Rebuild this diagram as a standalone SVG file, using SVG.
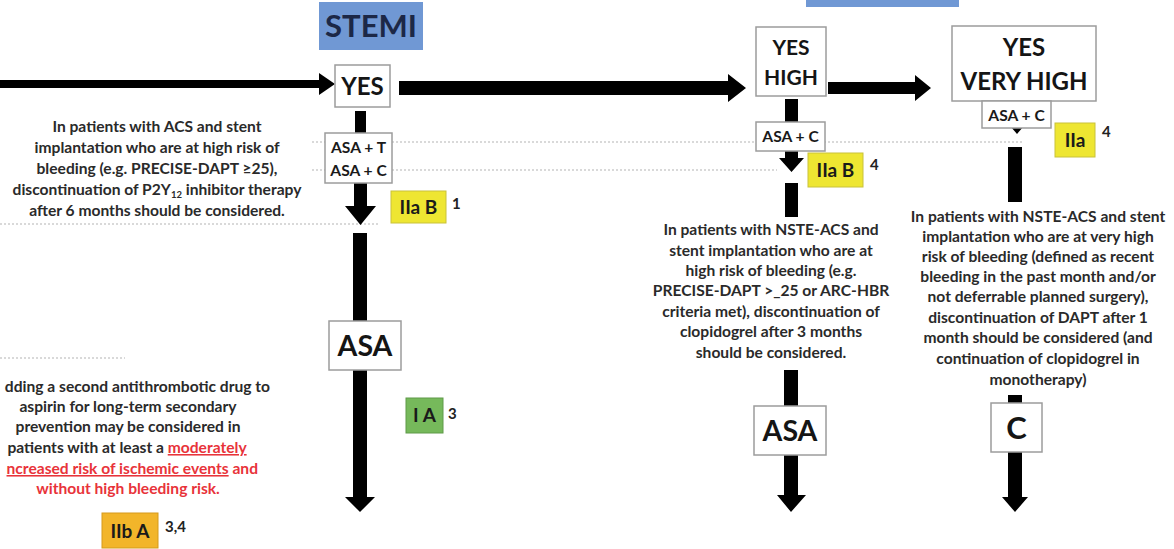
<svg xmlns="http://www.w3.org/2000/svg" width="1174" height="549" viewBox="0 0 1174 549">
<style>
.bg{fill:#fff}
.box{fill:#fff;stroke:#9c9c9c;stroke-width:1.5}
.dot{stroke:#b4b4b4;stroke-width:1.2;stroke-dasharray:2 2;fill:none}
.arr{fill:#000}
.t{font-family:Lato,"Liberation Sans",sans-serif;font-weight:700;fill:#2a2a2a}
.body{font-size:15.6px;text-anchor:middle}
.big{font-weight:700;fill:#151515;text-anchor:middle}
.sm{font-size:15.6px;text-anchor:middle;fill:#1a1a1a}
.badge{font-size:19px;text-anchor:middle;fill:#1a1a1a}
.ref{font-size:15px;fill:#222}
.red{fill:#e8333a}
.y{fill:#eee632;stroke:#c9c23a;stroke-width:1}
.g{fill:#76b95b;stroke:#5f9a48;stroke-width:1}
.o{fill:#f2b52a;stroke:#d59a1c;stroke-width:1}
.blue{fill:#7098d4}
</style>
<rect class="bg" x="0" y="0" width="1174" height="549"/>

<g id="guides">
<line class="dot" x1="312" y1="142" x2="1023" y2="142"/>
<line class="dot" x1="312" y1="170" x2="777" y2="170"/>
<line class="dot" x1="0" y1="224" x2="380" y2="224"/>
<line class="dot" x1="0" y1="358" x2="125" y2="358"/>
</g>

<g id="connectors">
<path class="arr" d="M0,80 H319 V73 L335,84 L319,95 V88 H0 Z"/>
<path class="arr" d="M399,81 H728 V74 L746,88 L728,102 V95 H399 Z"/>
<path class="arr" d="M828,82 H915 V75 L931,88 L915,101 V94 H828 Z"/>
<path class="arr" d="M355,111 H366 V134 H355 Z"/>
<path class="arr" d="M354,182 H367 V206 H376 L360.5,225 L345,206 H354 Z"/>
<path class="arr" d="M353,233 H367 V497 H375 L360,512 L345,497 H353 Z"/>
<path class="arr" d="M785,99 H798 V123 H785 Z"/>
<path class="arr" d="M785,150 H798 V158 H804 L791.5,172 L779,158 H785 Z"/>
<path class="arr" d="M785,183 H798 V217 H785 Z"/>
<path class="arr" d="M784,370 H798 V495 H806 L791,512 L777,495 H784 Z"/>
<path class="arr" d="M1011,127 H1023 L1017,134 Z"/>
<path class="arr" d="M1008,147 H1022 V202 H1008 Z"/>
<path class="arr" d="M1008,395 H1022 V497 H1028 L1015,512 L1002,497 H1008 Z"/>
</g>

<g id="stemi-label">
<rect class="blue" x="319" y="2" width="104" height="48"/>
<text class="t" x="371" y="37" font-size="31" text-anchor="middle" style="fill:#1c2847">STEMI</text>
</g>
<g id="nste-label">
<rect class="blue" x="806" y="-40" width="153" height="47"/>
</g>

<g id="yes-stemi">
<rect class="box" x="335" y="65" width="55" height="42"/>
<text class="t big" x="362.5" y="95" font-size="24">YES</text>
</g>
<g id="asa-t-c">
<rect class="box" x="325" y="133" width="67" height="50"/>
<text class="t sm" x="358.5" y="153">ASA + T</text>
<text class="t sm" x="358.5" y="176">ASA + C</text>
</g>
<g id="asa-stemi">
<rect class="box" x="329" y="321" width="72" height="49"/>
<text class="t big" x="365" y="356" font-size="28.5">ASA</text>
</g>

<g id="yes-high">
<rect class="box" x="756" y="27" width="70" height="69"/>
<text class="t big" x="791" y="55" font-size="21">YES</text>
<text class="t big" x="791" y="85" font-size="21">HIGH</text>
</g>
<g id="asa-c-high">
<rect class="box" x="756" y="122" width="69" height="29"/>
<text class="t sm" x="790.5" y="142">ASA + C</text>
</g>
<g id="asa-high">
<rect class="box" x="754" y="406" width="72" height="49"/>
<text class="t big" x="790" y="441" font-size="28.5">ASA</text>
</g>

<g id="yes-very-high">
<rect class="box" x="952" y="26" width="144" height="75"/>
<text class="t big" x="1024" y="56" font-size="24">YES</text>
<text class="t big" x="1024" y="90" font-size="24">VERY HIGH</text>
</g>
<g id="asa-c-vhigh">
<rect class="box" x="982" y="101" width="69" height="27"/>
<text class="t sm" x="1016.5" y="121">ASA + C</text>
</g>
<g id="c-vhigh">
<rect class="box" x="991" y="403" width="51" height="49"/>
<text class="t big" x="1016.5" y="439" font-size="31">C</text>
</g>

<g id="badge-iib-stemi">
<rect class="y" x="391" y="191" width="55" height="32"/>
<text class="t badge" x="418.5" y="214">IIa B</text>
<text class="t ref" x="452" y="209">1</text>
</g>
<g id="badge-ia">
<rect class="g" x="406" y="398" width="37" height="35"/>
<text class="t badge" x="424.5" y="422">I A</text>
<text class="t ref" x="448" y="419">3</text>
</g>
<g id="badge-iiba">
<rect class="o" x="102" y="513" width="56" height="35"/>
<text class="t badge" x="130" y="538">IIb A</text>
<text class="t ref" x="165" y="532">3,4</text>
</g>
<g id="badge-iib-high">
<rect class="y" x="808" y="153" width="55" height="34"/>
<text class="t badge" x="835.5" y="177">IIa B</text>
<text class="t ref" x="870" y="170">4</text>
</g>
<g id="badge-iia-vhigh">
<rect class="y" x="1055" y="123" width="40" height="34"/>
<text class="t badge" x="1075" y="147">IIa</text>
<text class="t ref" x="1102" y="137">4</text>
</g>

<g id="text-stemi">
<text class="t body" x="157" y="132">In patients with ACS and stent</text>
<text class="t body" x="157" y="153">implantation who are at high risk of</text>
<text class="t body" x="157" y="174">bleeding (e.g. PRECISE-DAPT ≥25),</text>
<text class="t body" x="157" y="195">discontinuation of P2Y<tspan font-size="9.5" dy="3">12</tspan><tspan dy="-3"> inhibitor therapy</tspan></text>
<text class="t body" x="157" y="216">after 6 months should be considered.</text>
</g>

<g id="text-longterm">
<text class="t body" x="270" y="392" style="text-anchor:end">dding a second antithrombotic drug to</text>
<text class="t body" x="128" y="412">aspirin for long-term secondary</text>
<text class="t body" x="128" y="432">prevention may be considered in</text>
<text class="t body" x="127" y="453">patients with at least a <tspan class="red" text-decoration="underline">moderately</tspan></text>
<text class="t body red" x="258" y="474" style="text-anchor:end"><tspan text-decoration="underline">ncreased risk of ischemic events</tspan> and</text>
<text class="t body red" x="128" y="494">without high bleeding risk.</text>
</g>

<g id="text-high">
<text class="t body" x="771" y="235">In patients with NSTE-ACS and</text>
<text class="t body" x="771" y="256">stent implantation who are at</text>
<text class="t body" x="771" y="276">high risk of bleeding (e.g.</text>
<text class="t body" x="771" y="296">PRECISE-DAPT &gt;_25 or ARC-HBR</text>
<text class="t body" x="771" y="317">criteria met), discontinuation of</text>
<text class="t body" x="771" y="337">clopidogrel after 3 months</text>
<text class="t body" x="771" y="358">should be considered.</text>
</g>

<g id="text-vhigh">
<text class="t body" x="1038" y="222">In patients with NSTE-ACS and stent</text>
<text class="t body" x="1038" y="242">implantation who are at very high</text>
<text class="t body" x="1038" y="262">risk of bleeding (defined as recent</text>
<text class="t body" x="1038" y="282">bleeding in the past month and/or</text>
<text class="t body" x="1038" y="302">not deferrable planned surgery),</text>
<text class="t body" x="1038" y="323">discontinuation of DAPT after 1</text>
<text class="t body" x="1038" y="343">month should be considered (and</text>
<text class="t body" x="1038" y="364">continuation of clopidogrel in</text>
<text class="t body" x="1038" y="385">monotherapy)</text>
</g>
</svg>
